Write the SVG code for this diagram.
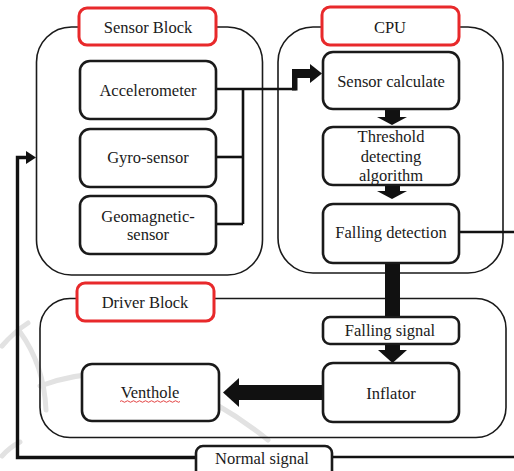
<svg xmlns="http://www.w3.org/2000/svg" width="514" height="471" viewBox="0 0 514 471">
  <style>
    .outer { fill: none; stroke: #1a1a1a; stroke-width: 1.6; }
    .box { fill: #ffffff; stroke: #1a1a1a; stroke-width: 2.6; }
    .tag { fill: #ffffff; stroke: #e8292b; stroke-width: 3; }
    .lbl { font-family: "Liberation Serif", "Times New Roman", serif; font-size: 16.5px; fill: #1a1a1a; text-anchor: middle; }
    .wire { fill: none; stroke: #111111; stroke-width: 2.6; }
    .thick { fill: #111111; stroke: none; }
    .mark { fill: none; stroke: #e2e2e2; stroke-width: 5; stroke-linecap: round; }
  </style>

  <rect width="514" height="471" fill="#ffffff"/>

  <!-- faint background swoosh -->
  <g id="backdrop">
    <path class="mark" d="M 2 346 Q 14 332 28 323"/>
    <path class="mark" d="M 20 332 Q 44 365 46 410"/>
    <path class="mark" d="M 40 386 Q 150 345 268 440"/>
    <path class="mark" d="M 2 456 Q 10 447 20 442"/>
  </g>

  <!-- block containers -->
  <g id="sensor-block">
    <rect class="outer" x="36.5" y="27" width="226" height="248" rx="35"/>
    <rect class="tag" x="79" y="8" width="137" height="37" rx="8"/>
    <text class="lbl" x="148" y="33">Sensor Block</text>
  </g>
  <g id="cpu-block">
    <rect class="outer" x="278" y="27" width="225" height="246" rx="35"/>
    <rect class="tag" x="322" y="7" width="137" height="38" rx="8"/>
    <text class="lbl" x="390" y="33">CPU</text>
  </g>
  <g id="driver-block">
    <rect class="outer" x="40" y="298.5" width="466" height="139" rx="30"/>
    <rect class="tag" x="77" y="283" width="137" height="38" rx="8"/>
    <text class="lbl" x="145" y="308">Driver Block</text>
  </g>

  <!-- connectors -->
  <g id="connectors">
    <!-- sensor bus into CPU -->
    <path class="wire" d="M 216 89 H 296"/>
    <path class="wire" d="M 243 89 V 224"/>
    <path class="wire" d="M 216 157 H 243"/>
    <path class="wire" d="M 216 224 H 243"/>
    <rect class="thick" x="292" y="69" width="5.5" height="21.5"/>
    <rect class="thick" x="292" y="69" width="19" height="9"/>
    <polygon class="thick" points="310,64 322,73.5 310,83"/>

    <!-- CPU pipeline -->
    <rect class="thick" x="385" y="109" width="15" height="9"/>
    <polygon class="thick" points="377,117 407,117 392,125"/>
    <rect class="thick" x="385" y="185" width="15" height="7"/>
    <polygon class="thick" points="377,191 407,191 392,199"/>

    <!-- falling detection to driver -->
    <rect class="thick" x="385" y="262" width="15" height="56"/>
    <rect class="thick" x="385" y="343" width="15" height="8"/>
    <polygon class="thick" points="378,350 407,350 392.5,363"/>

    <!-- inflator to venthole -->
    <rect class="thick" x="237" y="385" width="87" height="15"/>
    <polygon class="thick" points="223,392.5 239,378 239,407"/>

    <!-- falling detection side exit -->
    <path class="wire" d="M 459 232 H 514"/>

    <!-- normal signal feedback loop -->
    <path class="wire" d="M 332 457 H 514"/>
    <path fill="none" stroke="#111111" stroke-width="3.4" d="M 196 457.5 H 17.5 V 157.5 H 28"/>
    <polygon class="thick" points="26,151 36,157.5 26,164"/>
  </g>

  <!-- sensor nodes -->
  <g id="accelerometer">
    <rect class="box" x="80" y="61" width="136" height="58" rx="10"/>
    <text class="lbl" x="148" y="96">Accelerometer</text>
  </g>
  <g id="gyro-sensor">
    <rect class="box" x="80" y="129" width="136" height="58" rx="10"/>
    <text class="lbl" x="148" y="163">Gyro-sensor</text>
  </g>
  <g id="geomagnetic-sensor">
    <rect class="box" x="80" y="196" width="136" height="58" rx="10"/>
    <text class="lbl" x="148" y="222">Geomagnetic-</text>
    <text class="lbl" x="148" y="240">sensor</text>
  </g>

  <!-- CPU nodes -->
  <g id="sensor-calculate">
    <rect class="box" x="323" y="52" width="136" height="57" rx="10"/>
    <text class="lbl" x="391" y="87">Sensor calculate</text>
  </g>
  <g id="threshold">
    <rect class="box" x="323" y="127" width="136" height="58" rx="10"/>
    <text class="lbl" x="391" y="142">Threshold</text>
    <text class="lbl" x="391" y="161.5">detecting</text>
    <text class="lbl" x="391" y="181">algorithm</text>
  </g>
  <g id="falling-detection">
    <rect class="box" x="323" y="204" width="136" height="59" rx="10"/>
    <text class="lbl" x="391" y="238">Falling detection</text>
  </g>

  <!-- driver nodes -->
  <g id="falling-signal">
    <rect class="box" x="323" y="317" width="136" height="27" rx="7"/>
    <text class="lbl" x="390" y="336">Falling signal</text>
  </g>
  <g id="inflator">
    <rect class="box" x="323" y="363" width="136" height="59" rx="10"/>
    <text class="lbl" x="391" y="398.5">Inflator</text>
  </g>
  <g id="venthole">
    <rect class="box" x="82" y="364" width="137" height="57" rx="10"/>
    <text class="lbl" x="150" y="398">Venthole</text>
    <path fill="none" stroke="#e03030" stroke-width="0.9" d="M 120 401.5 q 1.5 -1.5 3 0 t 3 0 t 3 0 t 3 0 t 3 0 t 3 0 t 3 0 t 3 0 t 3 0 t 3 0 t 3 0 t 3 0 t 3 0 t 3 0 t 3 0 t 3 0 t 3 0 t 3 0 t 3 0 t 3 0"/>
  </g>

  <g id="normal-signal">
    <rect class="box" x="196" y="446" width="136" height="32" rx="7"/>
    <text class="lbl" x="262" y="464">Normal signal</text>
  </g>
</svg>
